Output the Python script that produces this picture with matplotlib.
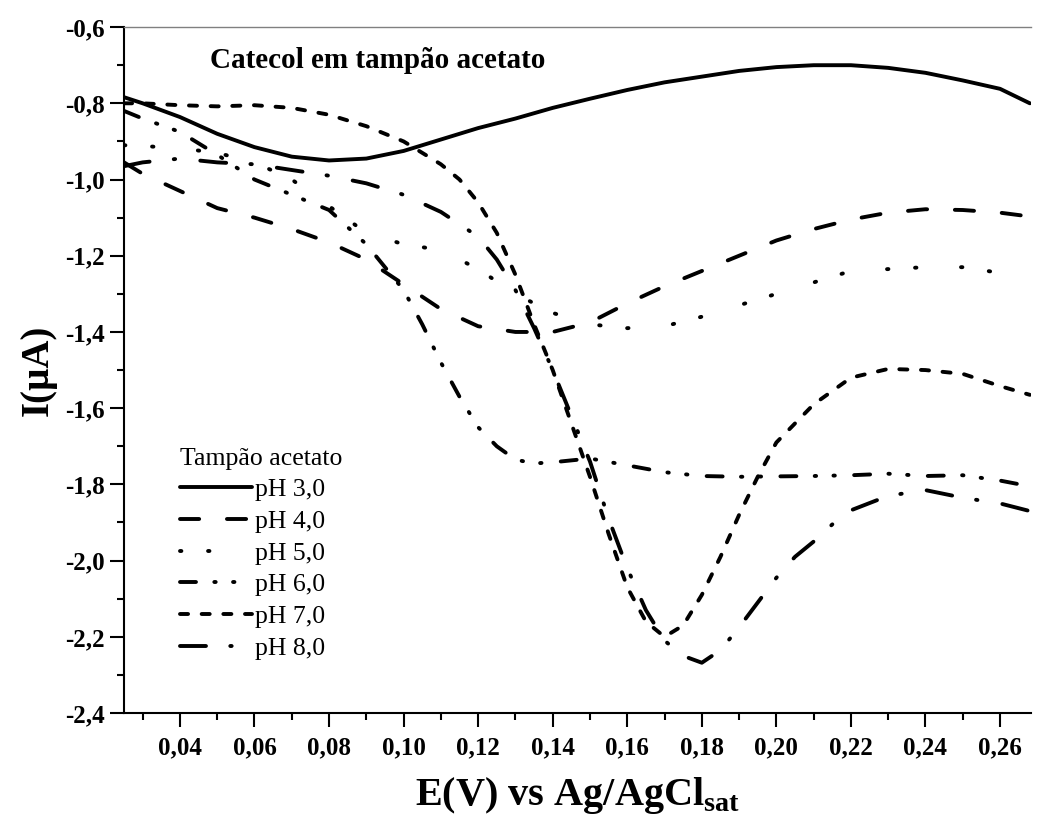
import matplotlib
matplotlib.use("Agg")
import matplotlib.pyplot as plt
from matplotlib.ticker import MultipleLocator, FuncFormatter

plt.rcParams['font.family'] = ['Liberation Serif', 'DejaVu Serif']
plt.rcParams['mathtext.fontset'] = 'custom'
plt.rcParams['mathtext.rm'] = 'Liberation Serif'
plt.rcParams['mathtext.bf'] = 'Liberation Serif:bold'
plt.rcParams['lines.scale_dashes'] = False

# ---------------- data ----------------
x_ph3 = [0.025, 0.03, 0.04, 0.05, 0.06, 0.07, 0.08, 0.09, 0.10, 0.11, 0.12, 0.13, 0.14,
         0.15, 0.16, 0.17, 0.18, 0.19, 0.20, 0.21, 0.22, 0.23, 0.24, 0.25, 0.26, 0.268]
y_ph3 = [-0.784, -0.80, -0.836, -0.88, -0.915, -0.94, -0.95, -0.945, -0.925, -0.895, -0.865,
         -0.84, -0.812, -0.788, -0.765, -0.745, -0.73, -0.715, -0.705, -0.70, -0.70, -0.707,
         -0.72, -0.74, -0.762, -0.80]

x_ph4 = [0.025, 0.03, 0.04, 0.05, 0.06, 0.07, 0.08, 0.09, 0.10, 0.11, 0.12, 0.13, 0.14,
         0.15, 0.16, 0.17, 0.18, 0.19, 0.20, 0.21, 0.22, 0.23, 0.24, 0.25, 0.26, 0.268]
y_ph4 = [-0.955, -0.985, -1.03, -1.075, -1.10, -1.13, -1.165, -1.21, -1.275, -1.34, -1.385,
         -1.40, -1.40, -1.375, -1.325, -1.28, -1.24, -1.20, -1.16, -1.13, -1.105, -1.087,
         -1.078, -1.08, -1.087, -1.097]

x_ph5 = [0.025, 0.03, 0.04, 0.05, 0.06, 0.07, 0.08, 0.09, 0.10, 0.11, 0.12, 0.13, 0.14,
         0.15, 0.16, 0.17, 0.18, 0.19, 0.20, 0.21, 0.22, 0.23, 0.24, 0.25, 0.26, 0.268]
y_ph5 = [-0.91, -0.912, -0.918, -0.93, -0.955, -1.0, -1.07, -1.14, -1.17, -1.185, -1.235,
         -1.30, -1.35, -1.38, -1.39, -1.385, -1.36, -1.33, -1.30, -1.27, -1.24, -1.235,
         -1.23, -1.23, -1.245, -1.26]

x_ph6 = [0.025, 0.03, 0.04, 0.05, 0.06, 0.07, 0.08, 0.09, 0.095, 0.10, 0.105, 0.11, 0.115,
         0.12, 0.125, 0.13, 0.135, 0.14, 0.15, 0.16, 0.17, 0.18, 0.19, 0.20, 0.21, 0.22,
         0.23, 0.24, 0.25, 0.26, 0.268]
y_ph6 = [-0.82, -0.84, -0.875, -0.935, -1.0, -1.04, -1.08, -1.17, -1.23, -1.29, -1.38, -1.48,
         -1.57, -1.65, -1.70, -1.735, -1.745, -1.742, -1.732, -1.75, -1.768, -1.778, -1.78,
         -1.779, -1.778, -1.776, -1.772, -1.778, -1.776, -1.79, -1.805]

x_ph7 = [0.025, 0.03, 0.04, 0.05, 0.06, 0.07, 0.08, 0.09, 0.10, 0.11, 0.115, 0.12, 0.125,
         0.13, 0.135, 0.14, 0.145, 0.15, 0.155, 0.16, 0.165, 0.17, 0.175, 0.18, 0.185, 0.19,
         0.195, 0.20, 0.205, 0.21, 0.215, 0.22, 0.23, 0.24, 0.25, 0.26, 0.268]
y_ph7 = [-0.80, -0.80, -0.805, -0.808, -0.805, -0.812, -0.83, -0.86, -0.90, -0.96, -1.0,
         -1.06, -1.14, -1.25, -1.38, -1.50, -1.64, -1.78, -1.93, -2.07, -2.16, -2.20, -2.17,
         -2.09, -1.99, -1.88, -1.78, -1.69, -1.64, -1.59, -1.555, -1.52, -1.497, -1.50,
         -1.51, -1.542, -1.565]

x_ph8 = [0.025, 0.03, 0.04, 0.05, 0.06, 0.07, 0.08, 0.09, 0.10, 0.11, 0.12, 0.125, 0.13,
         0.135, 0.14, 0.145, 0.15, 0.155, 0.16, 0.165, 0.17, 0.175, 0.18, 0.185, 0.19,
         0.195, 0.20, 0.205, 0.21, 0.215, 0.22, 0.23, 0.24, 0.25, 0.26, 0.268]
y_ph8 = [-0.965, -0.955, -0.945, -0.955, -0.96, -0.975, -0.99, -1.01, -1.04, -1.085, -1.15,
         -1.21, -1.29, -1.39, -1.50, -1.62, -1.74, -1.89, -2.02, -2.13, -2.21, -2.25,
         -2.268, -2.235, -2.175, -2.11, -2.045, -1.99, -1.95, -1.905, -1.868, -1.83,
         -1.815, -1.835, -1.85, -1.87]

labels = ['pH 3,0', 'pH 4,0', 'pH 5,0', 'pH 6,0', 'pH 7,0', 'pH 8,0']
legend_title = 'Tampão acetato'
title_text = 'Catecol em tampão acetato'
xlabel = r'E(V) vs Ag/AgCl$_{\mathbf{sat}}$'
ylabel = 'I(µA)'
x_ticks = [0.04, 0.06, 0.08, 0.10, 0.12, 0.14, 0.16, 0.18, 0.20, 0.22, 0.24, 0.26]
y_ticks = [-2.4, -2.2, -2.0, -1.8, -1.6, -1.4, -1.2, -1.0, -0.8, -0.6]

# ---------------- styles ----------------
LW = 2.8
styles = [
    None,                                     # solid
    (0, (13.8, 20.0)),                        # long dash
    (0, (1.0, 19.2, 1.0, 32.1)),              # dots
    (0, (11.5, 13.2, 1.0, 12.5, 1.0, 13.9)),  # dash-dot-dot
    (0, (5.8, 9.8)),                          # short dash
    (0, (18.7, 17.5, 1.0, 18.2)),             # dash-dot
]

fig = plt.figure(figsize=(10.37, 8.21), dpi=100)
ax = fig.add_axes([0.1196, 0.1315, 0.8746, 0.8355])

series = [(x_ph3, y_ph3), (x_ph4, y_ph4), (x_ph5, y_ph5),
          (x_ph6, y_ph6), (x_ph7, y_ph7), (x_ph8, y_ph8)]
for (xs, ys), lab, st in zip(series, labels, styles):
    if st is None:
        ax.plot(xs, ys, color='black', lw=LW, solid_capstyle='round', label=lab)
    else:
        ax.plot(xs, ys, color='black', lw=LW, linestyle=st,
                dash_capstyle='round', label=lab)

ax.set_xlim(0.025, 0.2683)
ax.set_ylim(-2.4, -0.6)
ax.set_xticks(x_ticks)
ax.set_yticks(y_ticks)
ax.xaxis.set_minor_locator(MultipleLocator(0.01))
ax.yaxis.set_minor_locator(MultipleLocator(0.1))

def comma_fmt(decimals):
    return FuncFormatter(lambda v, p: f"{v:.{decimals}f}".replace('.', ','))

ax.xaxis.set_major_formatter(comma_fmt(2))
ax.yaxis.set_major_formatter(comma_fmt(1))

ax.tick_params(which='major', direction='out', length=10, width=1.5,
               labelsize=18, pad=4)
ax.tick_params(axis='x', which='major', pad=7)
ax.tick_params(which='minor', direction='out', length=5, width=1.5)
for lab in ax.get_xticklabels() + ax.get_yticklabels():
    lab.set_fontweight('bold')

ax.spines['left'].set_linewidth(1.5)
ax.spines['bottom'].set_linewidth(1.5)
ax.spines['top'].set_linewidth(1.0)
ax.spines['top'].set_color('#808080')
ax.spines['right'].set_visible(False)

ax.set_xlabel(xlabel, fontsize=29, fontweight='bold', labelpad=11)
ax.set_ylabel(ylabel, fontsize=28, fontweight='bold', labelpad=6)

ax.text(0.0948, 0.940, title_text, transform=ax.transAxes, fontsize=21,
        fontweight='bold', va='baseline', ha='left')

leg = ax.legend(loc='upper left', bbox_to_anchor=(0.0617, 0.387), frameon=False,
                fontsize=18.5, title=legend_title, title_fontsize=18.5,
                handlelength=2.8, handletextpad=0.12, labelspacing=0.34,
                borderpad=0, borderaxespad=0, alignment='left')

fig.savefig('out.png', dpi=100)
